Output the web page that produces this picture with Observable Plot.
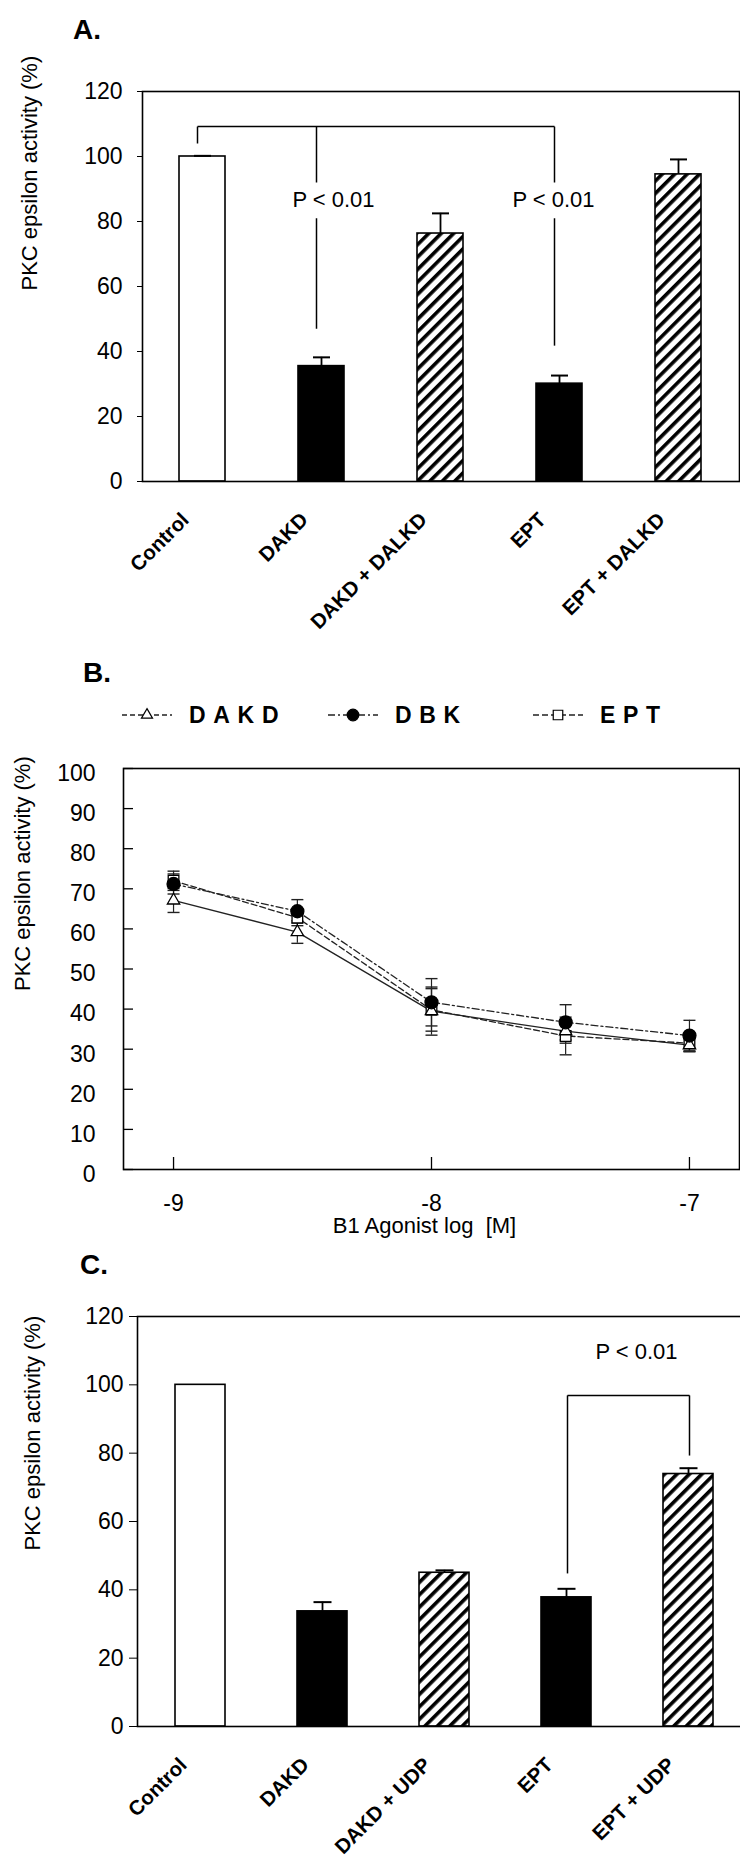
<!DOCTYPE html>
<html>
<head>
<meta charset="utf-8">
<script src="https://cdn.jsdelivr.net/npm/d3@7"></script>
<script src="https://cdn.jsdelivr.net/npm/@observablehq/plot@0.6"></script>
<style>
  html, body { margin: 0; padding: 0; background: #fff; }
  #root { position: relative; width: 740px; height: 1863px; overflow: hidden;
          font-family: "Liberation Sans", Arial, sans-serif; color: #000; background: #fff; }
  .panel { position: absolute; left: 0; }
  .ptitle { position: absolute; font-weight: bold; font-size: 28px; line-height: 1; }
  .cat g[aria-label="x-axis tick label"] { font-weight: bold; font-size: 20.5px; }
</style>
</head>
<body>
<svg width="0" height="0" style="position:absolute">
  <defs>
    <pattern id="hatch" patternUnits="userSpaceOnUse" width="8.8" height="8.8" patternTransform="rotate(45)">
      <rect width="8.8" height="8.8" fill="white"></rect>
      <rect width="3.6" height="8.8" fill="black"></rect>
    </pattern>
  </defs>
</svg>
<div id="root"></div>
<script>
// ---------------- Panel A data ----------------
const catsA = ["Control", "DAKD", "DAKD + DALKD", "EPT", "EPT + DALKD"];
const valuesA = [100, 35.5, 76.3, 30.1, 94.5];
const errorsA = [0.2, 2.7, 6.2, 2.5, 4.6];
const kindsA = ["control", "alone", "combined", "alone", "combined"];
const yTicksA = [0, 20, 40, 60, 80, 100, 120];
const bracketA = [
  {x1: "Control", x2: "EPT", y1: 109.2, y2: 109.2},
  {x1: "Control", x2: "Control", y1: 109.2, y2: 104},
  {x1: "DAKD", x2: "DAKD", y1: 109.2, y2: 92},
  {x1: "DAKD", x2: "DAKD", y1: 81, y2: 47},
  {x1: "EPT", x2: "EPT", y1: 109.2, y2: 92},
  {x1: "EPT", x2: "EPT", y1: 81, y2: 41.8}
];
const pLabelA1 = [{x: "DAKD", y: 86.5, text: "P < 0.01"}];
const pLabelA2 = [{x: "EPT", y: 86.5, text: "P < 0.01"}];

// ---------------- Panel B data ----------------
const seriesB = ["DAKD", "DBK", "EPT"];
const doseB = [-9, -8.52, -8, -7.48, -7];
const dakdB = [67.1, 59.2, 39.5, 34.5, 31.0];
const dakdErrB = [3.0, 2.8, 6.0, 3.0, 1.6];
const dbkB = [71.2, 64.4, 41.7, 36.7, 33.4];
const dbkErrB = [2.5, 2.9, 5.9, 4.4, 3.8];
const eptB = [72.0, 62.8, 39.8, 33.3, 31.5];
const eptErrB = [2.4, 2.0, 5.3, 4.7, 2.1];
const xTicksB = [-9, -8, -7];
const yTicksB = [0, 10, 20, 30, 40, 50, 60, 70, 80, 90, 100];
const xLabelB = "B1 Agonist log\u00a0 [M]";

// ---------------- Panel C data ----------------
const catsC = ["Control", "DAKD", "DAKD + UDP", "EPT", "EPT + UDP"];
const valuesC = [100, 33.7, 45.0, 37.8, 73.9];
const errorsC = [0, 2.7, 0.7, 2.5, 1.7];
const kindsC = ["control", "alone", "combined", "alone", "combined"];
const yTicksC = [0, 20, 40, 60, 80, 100, 120];
const bracketC = [
  {x1: "EPT", x2: "EPT + UDP", y1: 96.9, y2: 96.9},
  {x1: "EPT", x2: "EPT", y1: 96.9, y2: 44.8},
  {x1: "EPT + UDP", x2: "EPT + UDP", y1: 96.9, y2: 79.3}
];
const pLabelC = [{x: "EPT + UDP", y: 109.5, text: "P < 0.01"}];

const yTitle = "PKC epsilon activity (%)";

// ---------------- helpers ----------------
const FONT = "Liberation Sans, Arial, sans-serif";
const fillOf = k => ({control: "white", alone: "black", combined: "url(#hatch)"})[k];
const capSymbol = {draw(ctx, size) { const w = Math.sqrt(size / Math.PI); ctx.moveTo(-w, 0); ctx.lineTo(w, 0); }};
const root = document.getElementById("root");

function place(el, top, cls) {
  const wrap = document.createElement("div");
  wrap.className = "panel" + (cls ? " " + cls : "");
  wrap.style.top = top + "px";
  wrap.appendChild(el);
  root.appendChild(wrap);
}
function title(text, left, top) {
  const d = document.createElement("div");
  d.className = "ptitle";
  d.textContent = text;
  d.style.left = left + "px";
  d.style.top = top + "px";
  root.appendChild(d);
}

function barPanel({cats, values, errors, kinds, yTicks, height, marginTop, marginBottom, marginLeft, marginRight,
                   padIn, padOut, tickSize, tickPadding, extra, yTitleDx, yTitleDy, capR}) {
  const data = cats.map((c, i) => ({cat: c, v: values[i], e: errors[i], kind: kinds[i]}));
  return Plot.plot({
    width: 740, height, marginTop, marginBottom, marginLeft, marginRight,
    style: {fontFamily: FONT, fontSize: "23px", color: "black", background: "transparent", overflow: "visible"},
    x: {domain: cats, paddingInner: padIn, paddingOuter: padOut, axis: null},
    y: {domain: [0, 120], axis: null},
    marks: [
      Plot.barY(data, {x: "cat", y: "v", fill: d => fillOf(d.kind), stroke: "black", strokeWidth: 1.6}),
      Plot.ruleX(data.filter(d => d.e > 0.5), {x: "cat", y1: "v", y2: d => d.v + d.e, stroke: "black", strokeWidth: 1.8}),
      Plot.dot(data.filter(d => d.e > 0.1), {x: "cat", y: d => d.v + d.e, symbol: capSymbol, r: capR, fill: "none", stroke: "black", strokeWidth: 2}),
      Plot.frame({stroke: "black", strokeWidth: 1.6}),
      Plot.axisY({ticks: yTicks, tickSize, tickPadding, label: null, tickFormat: d => d}),
      Plot.axisX({tickSize: 0, tickPadding: 35, tickRotate: -45, dx: -17, label: null}),
      Plot.text([yTitle], {frameAnchor: "left", rotate: -90, dx: yTitleDx, dy: yTitleDy, fontSize: 22}),
      ...extra
    ]
  });
}

// ---------------- Panel A ----------------
title("A.", 73, 16);
place(barPanel({
  cats: catsA, values: valuesA, errors: errorsA, kinds: kindsA, yTicks: yTicksA,
  height: 640, marginTop: 91, marginBottom: 159, marginLeft: 142, marginRight: 1,
  padIn: 0.61, padOut: 0.305, tickSize: 5, tickPadding: 15, yTitleDx: -113, yTitleDy: 4, capR: 8.5,
  extra: [
    Plot.link(bracketA, {x1: "x1", x2: "x2", y1: "y1", y2: "y2", dx: -5, stroke: "black", strokeWidth: 1.5}),
    Plot.text(pLabelA1, {x: "x", y: "y", text: "text", dx: 12, fontSize: 22}),
    Plot.text(pLabelA2, {x: "x", y: "y", text: "text", dx: -6, fontSize: 22})
  ]
}), 0, "cat");

// ---------------- Panel B ----------------
title("B.", 83, 659);
const rowsB = [];
[[dakdB, dakdErrB], [dbkB, dbkErrB], [eptB, eptErrB]].forEach(([vals, errs], s) => {
  doseB.forEach((x, i) => rowsB.push({series: seriesB[s], x, y: vals[i], e: errs[i]}));
});
const dashOf = {DAKD: null, DBK: "7,3,2,3", EPT: "6,3"};
const symOf = {DAKD: "triangle", DBK: "circle", EPT: "square"};
const dotFill = {DAKD: "white", DBK: "black", EPT: "white"};
const dotR = {DAKD: 4.6, DBK: 6.5, EPT: 6.0};
const drawOrder = ["EPT", "DAKD", "DBK"];

const frameWB = 740 - 123 - 1, frameHB = 600 - 128 - 71;
const plotB = Plot.plot({
  width: 740, height: 600, marginTop: 128, marginBottom: 71, marginLeft: 123, marginRight: 1,
  style: {fontFamily: FONT, fontSize: "23px", color: "black", background: "transparent", overflow: "visible"},
  x: {domain: [-9.194, -6.806], axis: null},
  y: {domain: [0, 100], axis: null},
  marks: [
    ...seriesB.map(s => Plot.line(rowsB.filter(d => d.series === s), {x: "x", y: "y", stroke: "#222", strokeWidth: 1.3, strokeDasharray: dashOf[s]})),
    Plot.ruleX(rowsB, {x: "x", y1: d => d.y - d.e, y2: d => d.y + d.e, stroke: "#222", strokeWidth: 1.2}),
    Plot.dot(rowsB, {x: "x", y: d => d.y + d.e, symbol: capSymbol, r: 6, fill: "none", stroke: "#222", strokeWidth: 1.4}),
    Plot.dot(rowsB, {x: "x", y: d => d.y - d.e, symbol: capSymbol, r: 6, fill: "none", stroke: "#222", strokeWidth: 1.4}),
    ...drawOrder.map(s => Plot.dot(rowsB.filter(d => d.series === s), {x: "x", y: "y", symbol: symOf[s], r: dotR[s], fill: dotFill[s], stroke: "black", strokeWidth: 1.3})),
    Plot.frame({stroke: "black", strokeWidth: 1.6}),
    Plot.tickY(yTicksB, {y: d => d, insetRight: frameWB - 10, stroke: "black", strokeWidth: 1.3}),
    Plot.tickX(xTicksB, {x: d => d, insetTop: frameHB - 12, stroke: "black", strokeWidth: 1.3}),
    Plot.axisY({ticks: yTicksB, tickSize: 0, tickPadding: 28, dy: 5, label: null}),
    Plot.axisX({ticks: xTicksB, tickSize: 0, tickPadding: 25, label: null, tickFormat: d => String(d)}),
    Plot.text([xLabelB], {frameAnchor: "bottom", dy: 63, dx: -7, fontSize: 22}),
    Plot.text([yTitle], {frameAnchor: "left", rotate: -90, dx: -101, dy: 22, fontSize: 22})
  ]
});
place(plotB, 640);

// legend for panel B
(function legend() {
  const lx = {DAKD: 122, DBK: 328, EPT: 533};
  const svg = d3.create("svg").attr("width", 740).attr("height", 40)
    .style("position", "absolute").style("left", "0px").style("top", "695px");
  for (const s of seriesB) {
    const x0 = lx[s], cy = 20;
    svg.append("line").attr("x1", x0).attr("x2", x0 + 50).attr("y1", cy).attr("y2", cy)
      .attr("stroke", "#222").attr("stroke-width", 1.3)
      .attr("stroke-dasharray", dashOf[s] || "5,3");
    const size = Math.PI * dotR[s] * dotR[s] * 0.8;
    const sym = {triangle: d3.symbolTriangle, circle: d3.symbolCircle, square: d3.symbolSquare}[symOf[s]];
    svg.append("path").attr("d", d3.symbol(sym, size)())
      .attr("transform", `translate(${x0 + 25},${cy})`)
      .attr("fill", dotFill[s]).attr("stroke", "black").attr("stroke-width", 1.2);
    svg.append("text").attr("x", x0 + 67).attr("y", cy + 8).text(s)
      .attr("font-family", FONT).attr("font-weight", "bold").attr("font-size", 23)
      .attr("letter-spacing", "7.7px").attr("fill", "black");
  }
  root.appendChild(svg.node());
})();

// ---------------- Panel C ----------------
title("C.", 80, 1251);
place(barPanel({
  cats: catsC, values: valuesC, errors: errorsC, kinds: kindsC, yTicks: yTicksC,
  height: 623, marginTop: 76, marginBottom: 137, marginLeft: 137, marginRight: -11,
  padIn: 0.59, padOut: 0.295, tickSize: 8, tickPadding: 6, yTitleDx: -105, yTitleDy: 29, capR: 9,
  extra: [
    Plot.link(bracketC, {x1: "x1", x2: "x2", y1: "y1", y2: "y2", dx: 1, stroke: "black", strokeWidth: 1.5}),
    Plot.text(pLabelC, {x: "x", y: "y", text: "text", dx: -52, fontSize: 22})
  ]
}), 1240, "cat");
</script>
</body>
</html>
